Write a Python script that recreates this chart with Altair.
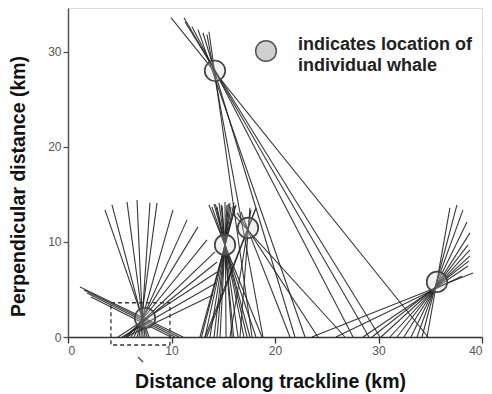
import altair as alt
import pandas as pd

FONT = "Liberation Sans"

# ---- whale positions (km) ----
whale_x = [14.20, 15.17, 17.39, 35.65, 7.44]
whale_y = [28.0, 9.68, 11.47, 5.79, 2.0]

# ---- bearing lines: start on the trackline (y = 0) and far end (km) ----
w1_start = [34.78, 29.08, 30.14, 27.54, 22.90, 21.93, 18.84, 17.78]
w1_end_x = [9.95, 11.21, 11.30, 11.98, 12.56, 13.04, 13.43, 13.62]
w1_end_y = [33.58, 33.58, 33.16, 32.63, 32.32, 32.0, 31.79, 32.1]

w2_start = [12.75, 12.9, 13.24, 13.72, 14.11, 14.4, 14.69, 15.27, 15.85, 16.0, 16.43,
            17.00, 17.3, 17.58, 18.16, 18.74]
w2_end_x = [16.23, 16.13, 16.04, 15.75, 15.65, 15.5, 15.36, 15.17, 14.88, 14.8, 14.59,
            14.40, 14.25, 14.11, 13.91, 13.62]
w2_end_y = [13.89, 13.8, 14.11, 13.68, 14.11, 14.0, 13.89, 14.21, 13.79, 13.9, 14.11,
            13.68, 13.95, 14.0, 13.68, 13.89]

w3_start = [13.24, 13.4, 15.65, 16.62, 21.45, 24.15, 26.76]
w3_end_x = [18.16, 18.1, 17.68, 17.58, 16.71, 16.33, 15.94]
w3_end_y = [13.58, 13.4, 13.37, 13.58, 13.16, 13.05, 12.95]

w4_start = [23.57, 25.89, 28.5, 29.37, 30.24, 31.11, 31.79, 32.46, 33.14, 33.72, 34.2, 34.69]
w4_end_x = [39.13, 38.07, 38.65, 38.74, 38.84, 38.84, 38.65, 38.84, 38.55, 38.16, 37.58, 36.9]
w4_end_y = [6.74, 6.42, 7.47, 8.0, 8.53, 9.16, 9.68, 10.95, 12.1, 13.37, 13.89, 13.58]

w5_start = [7.83, 7.63, 7.44, 7.25, 7.05, 6.86, 6.67, 6.38, 6.09, 5.80, 5.60, 5.41,
            4.83, 5.22, 5.60, 11.11, 10.72, 10.34, 9.95]
w5_end_x = [3.57, 4.25, 5.70, 6.67, 7.92, 8.60, 10.14, 11.5, 12.56, 13.43, 14.2, 14.4,
            14.4, 14.3, 14.0, 1.16, 1.55, 1.84, 2.22]
w5_end_y = [13.37, 13.89, 14.21, 14.42, 14.11, 14.11, 13.37, 12.32, 11.58, 10.21, 8.95, 7.89,
            6.84, 5.68, 4.42, 5.26, 4.95, 4.63, 4.21]

# ---- dashed inset box and small stroke under the axis (km) ----
box_x = [4.15, 9.85]
box_y = [-0.84, 3.6]
mark_x = [6.76, 7.25]
mark_y = [-2.1, -2.63]

x_ticks = [0, 10, 20, 30, 40]
y_ticks = [0, 10, 20, 30]
legend_lines = ["indicates location of", "individual whale"]

# ---- tables ----
starts = w1_start + w2_start + w3_start + w4_start + w5_start
ends_x = w1_end_x + w2_end_x + w3_end_x + w4_end_x + w5_end_x
ends_y = w1_end_y + w2_end_y + w3_end_y + w4_end_y + w5_end_y
lines_df = pd.DataFrame({"x": starts, "y": [0.0] * len(starts), "x2": ends_x, "y2": ends_y})
whales_df = pd.DataFrame({"x": whale_x, "y": whale_y})
box_df = pd.DataFrame({"x": [box_x[0]], "x2": [box_x[1]], "y": [box_y[0]], "y2": [box_y[1]]})
mark_df = pd.DataFrame({"x": [mark_x[0]], "x2": [mark_x[1]], "y": [mark_y[0]], "y2": [mark_y[1]]})

xscale = alt.Scale(domain=[0, 40], nice=False, zero=False)
yscale = alt.Scale(domain=[0, 34.6], nice=False, zero=False)

xaxis = alt.Axis(values=x_ticks, title="Distance along trackline (km)", grid=False,
                 domainColor="#333", domainWidth=1.5, tickColor="#333", tickWidth=1.3, tickSize=6,
                 labelColor="#555", labelFont=FONT, labelFontSize=12, labelPadding=2,
                 titleFont=FONT, titleFontSize=19.5, titleFontWeight="bold", titleColor="#111",
                 titleX=202, titleY=44, titleBaseline="middle", titleAlign="center")
yaxis = alt.Axis(values=y_ticks, title="Perpendicular distance (km)", grid=False,
                 domainColor="#555", domainWidth=1.5, tickColor="#555", tickWidth=1.3, tickSize=5,
                 labelColor="#555", labelFont=FONT, labelFontSize=12, labelPadding=2,
                 titleFont=FONT, titleFontSize=19.5, titleFontWeight="bold", titleColor="#111",
                 titleX=-50, titleY=178, titleBaseline="middle", titleAlign="center", titleAngle=270)

lines = alt.Chart(lines_df).mark_rule(color="#222", strokeWidth=1.1, opacity=0.9).encode(
    x=alt.X("x:Q", scale=xscale, axis=xaxis),
    y=alt.Y("y:Q", scale=yscale, axis=yaxis),
    x2="x2:Q", y2="y2:Q",
)

whales = alt.Chart(whales_df).mark_point(
    shape="circle", size=420, filled=False, fill="#cfcfcf", fillOpacity=0.3,
    stroke="#444", strokeWidth=1.7, opacity=1
).encode(x=alt.X("x:Q", scale=xscale), y=alt.Y("y:Q", scale=yscale))

box = alt.Chart(box_df).mark_rect(
    fill=None, stroke="#333", strokeWidth=1.3, strokeDash=[4, 3], clip=False
).encode(x=alt.X("x:Q", scale=xscale), x2="x2:Q", y=alt.Y("y:Q", scale=yscale), y2="y2:Q")

small = alt.Chart(mark_df).mark_rule(color="#444", strokeWidth=1.2).encode(
    x=alt.X("x:Q", scale=xscale), x2="x2:Q", y=alt.Y("y:Q", scale=yscale), y2="y2:Q")

leg_dot = alt.Chart(pd.DataFrame({"t": ["whale"]})).mark_point(
    shape="circle", size=430, filled=True, fill="#d0d0d0", stroke="#555", strokeWidth=1.5, opacity=1
).encode(x=alt.value(198), y=alt.value(43))

leg_t1 = alt.Chart(pd.DataFrame({"t": [legend_lines[0]]})).mark_text(
    align="left", baseline="middle", font=FONT, fontSize=18, fontWeight="bold", color="#222"
).encode(x=alt.value(230), y=alt.value(37), text="t:N")

leg_t2 = alt.Chart(pd.DataFrame({"t": [legend_lines[1]]})).mark_text(
    align="left", baseline="middle", font=FONT, fontSize=18, fontWeight="bold", color="#222"
).encode(x=alt.value(230), y=alt.value(58), text="t:N")

chart = alt.layer(lines, box, small, whales, leg_dot, leg_t1, leg_t2).properties(
    width=414, height=329,
    padding={"left": 68, "top": 8, "right": 10, "bottom": 57},
    autosize=alt.AutoSizeParams(type="none"),
).configure_view(stroke=None).configure(background="white")

chart.save("out.html", embed_options={"renderer": "svg", "actions": False})
